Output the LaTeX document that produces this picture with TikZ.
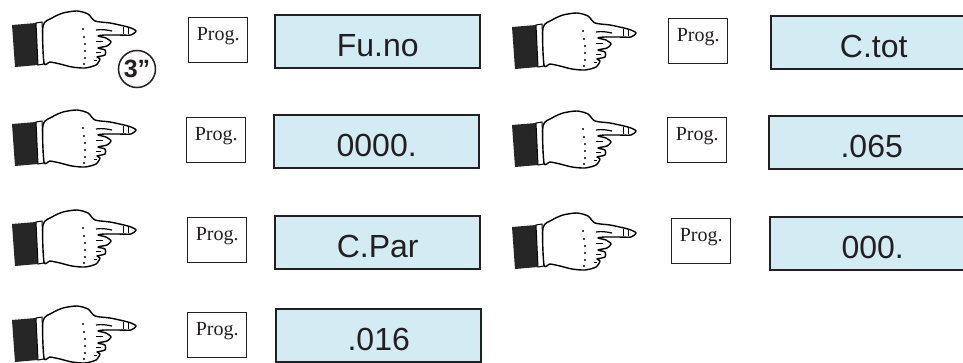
\documentclass[tikz,border=0pt]{standalone}
\usepackage{fontspec}
\setmainfont{Liberation Serif}
\newfontfamily\dispfont{Liberation Sans}
\definecolor{lcdblue}{HTML}{D3EBF2}
\definecolor{ink}{HTML}{231F20}
\tikzset{
  handpic/.pic={
    % black cuff
    \fill[black!85] (12,25) -- (36,23) -- (38,65) -- (15,67) -- cycle;
    % shirt band
    \draw[line width=1pt, fill=white] (36,23) -- (42,22) -- (44,64) -- (38,65) -- cycle;
    % hand outline
    \draw[line width=1.4pt, fill=white, line join=round]
      plot[smooth cycle, tension=0.45] coordinates {
        (43,26) (52,18) (63,13) (77,11) (88,14) (95,21)
        (110,23) (124,26) (131,28) (136,31) (131,35)
        (118,35) (104,35) (98,36)
        (106,38) (111,42) (107,46) (98,48)
        (105,50) (105,55) (97,57)
        (100,59) (96,65) (85,68)
        (72,67) (60,64) (50,62) (44,63)};
    % thumb line
    \draw[line width=1.2pt] (96,30) .. controls (102,29) and (107,30) .. (112,31);
    % finger creases
    \draw[line width=1pt] (96,41) -- (103,41) (96,52) -- (101,52) (94,60) -- (97,60);
    % nail ticks
    \draw[line width=1pt] (123,27) -- (123,34) (128,28) -- (128,34);
    % knuckle dots
    \foreach \px/\py in {83/29, 84/37, 85/44, 85/51, 85/58, 84/64}
      \fill (\px,\py) circle (1.2);
  }
}
\begin{document}
\begin{tikzpicture}[x=1pt,y=-1pt,
  progbox/.style={draw=ink, line width=1.4pt, fill=white, minimum width=59pt,
    minimum height=45pt, inner sep=0pt, anchor=north west, text=ink,
    font=\fontsize{20}{20}\selectfont, text height=9pt, text depth=9pt},
  lcd/.style={draw=ink, line width=2.4pt, fill=lcdblue, minimum width=205pt,
    minimum height=53pt, inner sep=0pt, anchor=north west, text=ink,
    font=\dispfont\fontsize{32}{32}\selectfont, text height=30pt, text depth=0pt},
  secs/.style={circle, draw=ink, line width=1.5pt, minimum size=37pt, inner sep=0pt,
    text=ink, font=\dispfont\bfseries\fontsize{25}{25}\selectfont}
]
\useasboundingbox (0,0) rectangle (963,362);
\clip (0,0) rectangle (963,362);
\fill[white] (0,0) rectangle (963,362);

% hands
\pic at (0,0) {handpic};
\pic at (0,99) {handpic};
\pic at (0,199) {handpic};
\pic at (0,295) {handpic};
\pic at (500,2) {handpic};
\pic at (500,100) {handpic};
\pic at (500,202) {handpic};

\node[secs] (t3) at (137,69) {3”};

% left column
\node[progbox] (p1) at (188,17) {Prog.};
\node[lcd] (d1) at (274,14) {Fu.no};
\node[progbox] (p2) at (186,117) {Prog.};
\node[lcd] (d2) at (273,114) {0000.};
\node[progbox] (p3) at (187,217) {Prog.};
\node[lcd] (d3) at (274,215) {C.Par};
\node[progbox] (p4) at (187,312) {Prog.};
\node[lcd] (d4) at (275,308) {.016};

% right column
\node[progbox] (p5) at (668,18) {Prog.};
\node[lcd] (d5) at (770,15) {C.tot};
\node[progbox] (p6) at (667,117) {Prog.};
\node[lcd] (d6) at (768,115) {.065};
\node[progbox] (p7) at (671,218) {Prog.};
\node[lcd] (d7) at (769,216) {000.};
\end{tikzpicture}
\end{document}
